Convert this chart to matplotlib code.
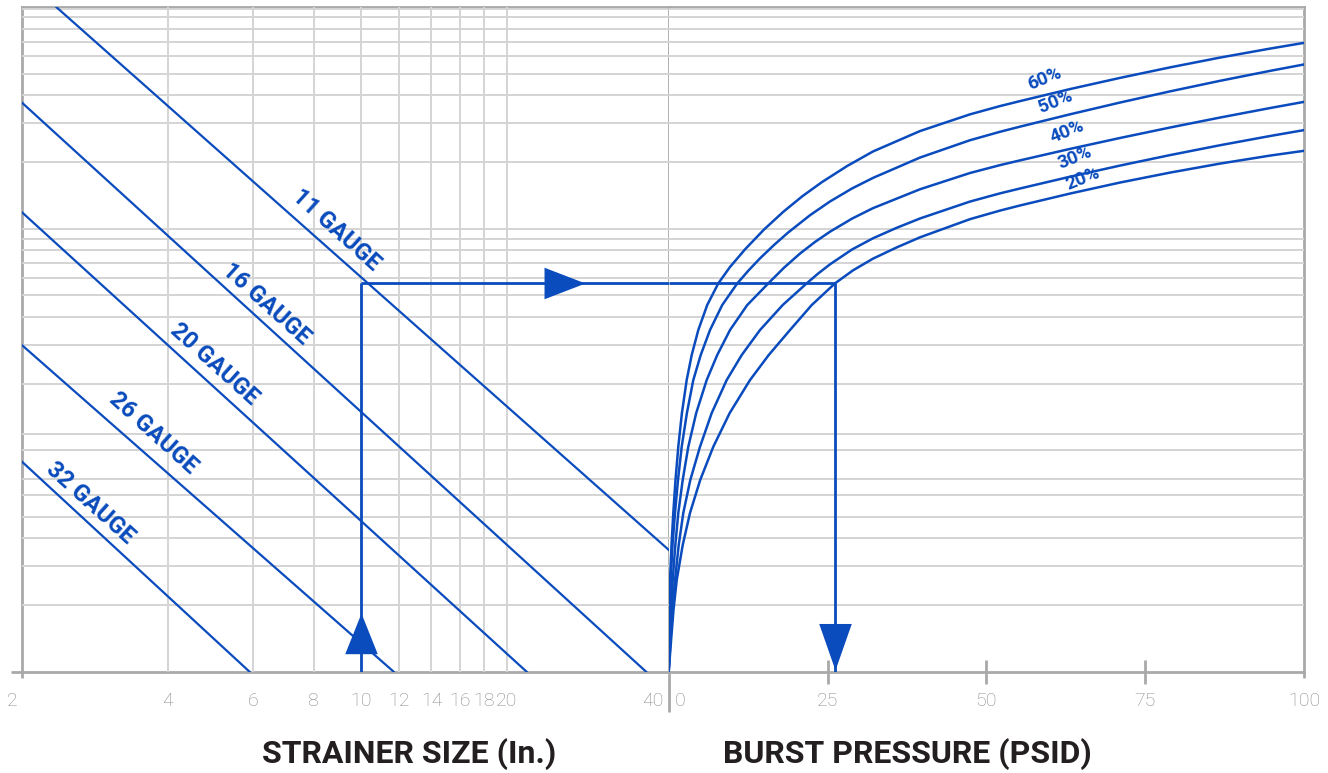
import matplotlib
matplotlib.use('Agg')
import matplotlib.pyplot as plt
from matplotlib.ticker import NullLocator
from matplotlib.transforms import blended_transform_factory, offset_copy

# left panel: strainer size (log) vs gauge lines, right panel: burst pressure curves
size_ticks = [2, 4, 6, 8, 10, 12, 14, 16, 18, 20, 40]
size_grid = [4, 6, 8, 10, 12, 14, 16, 18, 20]
psid_ticks = [0, 25, 50, 75, 100]
level_grid = [2, 3, 4, 5, 6.3, 7.4, 10, 11.8, 20, 30, 40, 50, 60, 70, 80, 90,
              100, 200, 300, 400, 500, 600, 700, 800, 900, 980]

gauges = ['11 GAUGE', '16 GAUGE', '20 GAUGE', '26 GAUGE', '32 GAUGE']
gauge_size = [[2.36, 43.2], [2.0, 38.8], [2.0, 22.0], [2.0, 11.7], [2.0, 5.9]]
gauge_level = [[1000, 3.55], [372, 1.0], [119, 1.0], [29.9, 1.0], [8.9, 1.0]]

# burst curves (psid, level)
open_area = ['60%', '50%', '40%', '30%', '20%']
low_level = [1, 1.39, 1.9, 2.59, 3.73, 5.21, 7.34, 10.37, 14.72, 20.75, 26.9, 34.89, 45.24, 56.69]

psid_60 = [0, 0.063, 0.126, 0.205, 0.441, 0.724, 1.07, 1.511, 2.078, 2.833, 3.62, 4.659, 6.06, 7.807,
           9.649, 12.01, 15.0, 18.07, 21.06, 24.13, 28.07, 32.16, 39.56, 47.43, 52.15, 55.3, 63.17,
           71.04, 78.91, 86.78, 94.65, 100]
level_60 = low_level + [67.2, 80.7, 99.2, 119.5, 140.4, 162.5, 191.9, 223.4, 276.2, 328.6, 358.1,
                        377.1, 427.3, 480.0, 535.4, 592.9, 650.9, 690.9]

psid_50 = [0, 0.094, 0.189, 0.315, 0.598, 0.992, 1.464, 2.046, 2.865, 3.872, 5.037, 6.501, 8.421, 10.8,
           12.56, 14.37, 16.58, 18.75, 22.24, 25.39, 28.85, 32.16, 39.56, 47.43, 52.15, 55.3, 63.17,
           71.04, 78.91, 86.78, 94.65, 100]
level_50 = low_level + [64.8, 73.5, 84.5, 95.9, 115.1, 132.8, 152.0, 169.7, 209.7, 251.1, 274.1,
                        289.1, 328.7, 371.5, 417.2, 465.6, 516.3, 552.0]

psid_40 = [0, 0.189, 0.378, 0.63, 1.039, 1.511, 2.204, 3.085, 4.329, 5.981, 7.634, 9.649, 12.36, 15.68,
           18.15, 20.67, 23.03, 25.39, 28.85, 32.16, 39.56, 47.43, 52.15, 55.3, 63.17, 71.04, 78.91,
           86.78, 94.65, 100]
level_40 = low_level + [66.7, 77.3, 87.2, 97.0, 111.1, 123.9, 150.8, 178.6, 193.8, 203.6, 229.4,
                        257.0, 286.5, 317.8, 350.8, 374.1]

psid_30 = [0, 0.283, 0.567, 0.992, 1.574, 2.298, 3.4, 4.927, 6.768, 9.13, 11.49, 14.37, 17.94, 21.72,
           23.5, 25.39, 28.85, 32.16, 35.78, 39.56, 47.43, 52.15, 55.3, 63.17, 71.04, 78.91, 86.78,
           94.65, 100]
level_30 = low_level + [62.7, 69.1, 80.6, 90.6, 100.7, 111.3, 132.7, 144.5, 152.0, 171.8, 192.9,
                        215.1, 238.3, 262.3, 278.9]

psid_20 = [0, 0.378, 0.756, 1.259, 2.204, 3.353, 4.958, 7.02, 9.6, 12.8, 15.74, 19.09, 22.51, 26.18,
           29.01, 32.16, 35.78, 39.56, 47.43, 52.15, 55.3, 63.17, 71.04, 78.91, 86.78, 94.65, 100]
level_20 = low_level + [64.9, 73.3, 82.1, 91.5, 110.5, 120.8, 127.4, 144.2, 161.7, 179.3, 196.9,
                        214.0, 224.9]

curve_psid = [psid_60, psid_50, psid_40, psid_30, psid_20]
curve_level = [level_60, level_50, level_40, level_30, level_20]

# worked example: 10 in. strainer, 11 gauge, 20% open area
example_size = 10
example_level = 56.7
example_psid = 26.2

BLUE = '#0a4bbd'
GRID = '#d4d4d4'
SPINE = '#a9a9a9'
TICKTXT = '#8a8a8a'
W, H = 1328, 773

fig = plt.figure(figsize=(13.28, 7.73), dpi=100)
axL = fig.add_axes([21.7 / W, (H - 671.7) / H, 647 / W, 664.4 / H])
axR = fig.add_axes([668.7 / W, (H - 671.7) / H, 635.3 / W, 664.4 / H])

axL.set_xscale('log')
axL.set_xlim(2, 43.2)
axR.set_xlim(0, 100)
for ax in (axL, axR):
    ax.set_yscale('log')
    ax.set_ylim(1, 1000)
    ax.yaxis.set_minor_locator(NullLocator())
    ax.set_yticks(level_grid)
    ax.tick_params(axis='y', length=0, labelleft=False)
    ax.grid(axis='y', color=GRID, lw=1.4, zorder=0)
    for sp in ax.spines.values():
        sp.set_color(SPINE)
        sp.set_linewidth(2)
        sp.set_zorder(1)
axR.spines['left'].set_visible(False)

axL.xaxis.set_minor_locator(NullLocator())
axL.set_xticks(size_grid)
axL.tick_params(axis='x', length=0, labelbottom=False)
axL.grid(axis='x', color=GRID, lw=1.4, zorder=0)

axR.set_xticks(psid_ticks[1:-1])
axR.tick_params(axis='x', direction='inout', length=17, width=2, color=SPINE, labelbottom=False)

# tick labels
tL = blended_transform_factory(axL.transData, axL.transAxes)
tR = blended_transform_factory(axR.transData, axR.transAxes)
tfont = dict(ha='center', va='center', fontsize=14, color=TICKTXT, family='Roboto', weight='light')
for s in size_ticks:
    tr = offset_copy(tL, fig=fig, x=-7 if s == 2 else 0, units='points')
    axL.text(s, -0.0434, str(s), transform=tr, **tfont)
for p in psid_ticks:
    tr = offset_copy(tR, fig=fig, x=8 if p == 0 else 0, units='points')
    axR.text(p, -0.0434, str(p), transform=tr, **tfont)

# axis line stubs below/beside the frame
stub = dict(color=SPINE, lw=2, clip_on=False, solid_capstyle='butt', zorder=1)
axL.plot([-0.016, 0], [0, 0], transform=axL.transAxes, **stub)
axL.plot([0, 0], [0, -0.0095], transform=axL.transAxes, **stub)
axL.plot([1, 1], [0, -0.0607], transform=axL.transAxes, **stub)
axR.plot([1, 1], [0, -0.0099], transform=axR.transAxes, **stub)

# gauge lines
gauge_pos = [(0.4858, 0.6648), (0.3776, 0.5534), (0.2972, 0.4631), (0.2029, 0.3593), (0.1056, 0.2539)]
for name, xs, ys, pos in zip(gauges, gauge_size, gauge_level, gauge_pos):
    axL.plot(xs, ys, color=BLUE, lw=1.6, zorder=3)
    axL.text(pos[0], pos[1], name, transform=axL.transAxes, rotation=-42,
             rotation_mode='anchor', ha='center', va='center', fontsize=17,
             weight='bold', color=BLUE, family='Roboto')

# open area curves
pct_pos = [(0.5923, 0.8925), (0.6081, 0.8575), (0.6265, 0.8123), (0.6395, 0.7736), (0.6526, 0.742)]
for name, xs, ys, pos in zip(open_area, curve_psid, curve_level, pct_pos):
    axR.plot(xs, ys, color=BLUE, lw=1.8, zorder=3, solid_joinstyle='round')
    axR.text(pos[0], pos[1], name, transform=axR.transAxes, rotation=22,
             rotation_mode='anchor', ha='center', va='center', fontsize=13.5,
             weight='bold', color=BLUE, family='Roboto')

# example path with arrowheads
ex = dict(color=BLUE, lw=2, zorder=4, solid_capstyle='butt')
axL.plot([example_size, example_size], [1, example_level], **ex)
axL.plot([example_size, axL.get_xlim()[1]], [example_level, example_level], **ex)
axR.plot([0, example_psid], [example_level, example_level], **ex)
axR.plot([example_psid, example_psid], [example_level, 1], **ex)

head_right = [(0, 0), (-1, 0.385), (-1, -0.385), (0, 0)]
head_up = [(0, 0), (0.4, -1), (-0.4, -1), (0, 0)]
head_down = [(0, 0), (0.35, 1), (-0.35, 1), (0, 0)]
axL.plot([0.871], [example_level], marker=head_right, ms=59, mew=0, mfc=BLUE,
         transform=blended_transform_factory(axL.transAxes, axL.transData), zorder=5)
axL.plot([example_size], [0.0879], marker=head_up, ms=58.6, mew=0, mfc=BLUE,
         transform=tL, zorder=5)
axR.plot([example_psid], [0.0026], marker=head_down, ms=67, mew=0, mfc=BLUE,
         transform=tR, zorder=5)

# axis titles
title = dict(ha='center', va='center', fontsize=23, weight='bold', color='#231f20', family='Roboto')
fig.text(409 / W, 1 - 753.7 / H, 'STRAINER SIZE (In.)', **title)
fig.text(907.5 / W, 1 - 753.7 / H, 'BURST PRESSURE (PSID)', **title)

fig.savefig('out.png', dpi=100)
